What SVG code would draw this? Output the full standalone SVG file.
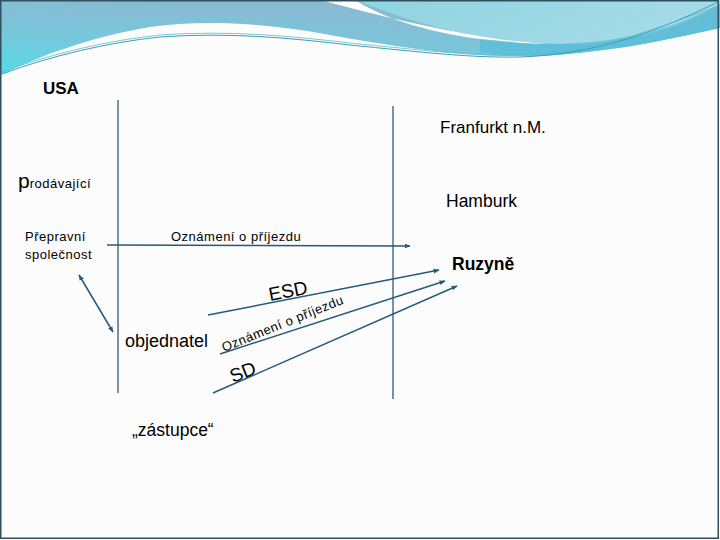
<svg xmlns="http://www.w3.org/2000/svg" width="720" height="540" viewBox="0 0 720 540">
<defs>
<linearGradient id="gA" x1="0" y1="1" x2="0.4" y2="0">
<stop offset="0" stop-color="#55dbe8"/>
<stop offset="0.5" stop-color="#78c6da"/>
<stop offset="1" stop-color="#8cb9d2"/>
</linearGradient>
<linearGradient id="gB" x1="0" y1="0" x2="1" y2="0.3">
<stop offset="0" stop-color="#8fd4e0"/>
<stop offset="1" stop-color="#a6dbe8"/>
</linearGradient>
<marker id="ah" viewBox="0 0 10 10" refX="9" refY="5" markerWidth="6" markerHeight="6" orient="auto-start-reverse" markerUnits="userSpaceOnUse">
<path d="M0,1 L10,5 L0,9 Z" fill="#245a7a"/>
</marker>
<style>
.t{font-family:"Liberation Sans",Arial,sans-serif;fill:#000}
.b{font-weight:bold}
.s{font-family:"Liberation Sans",Arial,sans-serif;font-size:13px;letter-spacing:0.5px;fill:#000}
.c{stroke:#245a7a;stroke-width:1.5;fill:none}
.v{stroke:#1e4d6b;stroke-width:1.2;fill:none}
</style>
</defs>
<rect x="0" y="0" width="720" height="540" fill="#fcfcfc"/>
<g id="decoration">
<path d="M0,0 H720 V28 C660,42 600,53 540,56 C470,58 400,48 330,35 C260,22 200,20 150,27 C90,37 40,56 0,75 Z" fill="url(#gA)"/>
<path d="M320,0 C380,16 430,28 480,36 C510,40 530,42 545,44 C520,44 500,40 480,39 C420,31 380,16 355,0 Z" fill="#ffffff"/>
<path d="M355,0 H720 V4 C690,24 640,42 580,44 C530,45 490,38 480,36 C430,28 390,13 355,0 Z" fill="url(#gB)"/>
<path d="M480,40 C540,47 600,45 650,32 C680,24 705,12 720,4 V28 C660,42 600,53 540,56 C510,56 490,54 480,52 Z" fill="#52bed8" opacity="0.7"/>
<path d="M2,74 C50,56 110,42 160,37 C230,32 290,38 350,45 C420,52 470,58 520,57 C600,54 660,30 718,2" stroke="#3aa0b8" stroke-width="1" fill="none"/>
<path d="M2,72 C50,54 110,40 160,35 C230,30 290,36 350,43 C420,50 470,56 520,55 C600,52 660,27 718,6" stroke="#62b8c8" stroke-width="0.8" fill="none"/>
</g>
<rect x="0.75" y="0.75" width="717.5" height="537.5" fill="none" stroke="#2f4f5f" stroke-width="1.5"/>
<g id="lines">
<line class="v" x1="118" y1="100" x2="118" y2="393"/>
<line class="v" x1="393" y1="106" x2="393" y2="399"/>
</g>
<g id="usa"><text class="t b" x="43" y="94" font-size="17">USA</text></g>
<g id="frankfurt"><text class="t" x="440" y="133" font-size="17">Franfurkt n.M.</text></g>
<g id="prodavajici"><text x="18" y="188"><tspan class="t" font-size="21">p</tspan><tspan class="s">rodávající</tspan></text></g>
<g id="hamburk"><text class="t" x="446" y="207" font-size="17.5">Hamburk</text></g>
<g id="prepravni"><text class="s" x="25" y="241">Přepravní</text><text class="s" x="25" y="259">společnost</text></g>
<g id="ruzyne"><text class="t b" x="452" y="270" font-size="17.5">Ruzyně</text></g>
<g id="objednatel"><text class="t" x="125" y="347" font-size="18">objednatel</text></g>
<g id="zastupce"><text class="t" x="132" y="436" font-size="17.5">„zástupce“</text></g>
<g id="connectors">
<line class="c" x1="107" y1="245" x2="410" y2="246" marker-end="url(#ah)"/>
<text class="s" x="171" y="241">Oznámení o příjezdu</text>
<line class="c" x1="208" y1="315" x2="439" y2="270" marker-end="url(#ah)"/>
<text class="t" font-size="19" transform="translate(270,301) rotate(-11)">ESD</text>
<line class="c" x1="220" y1="354" x2="445" y2="281" marker-end="url(#ah)"/>
<text class="s" font-size="14" letter-spacing="0.2" transform="translate(224,352) rotate(-22)">Oznámení o příjezdu</text>
<line class="c" x1="213" y1="393" x2="457" y2="286" marker-end="url(#ah)"/>
<text class="t" font-size="19" transform="translate(233,383) rotate(-22)">SD</text>
<line class="c" x1="79" y1="275" x2="113" y2="332" marker-start="url(#ah)" marker-end="url(#ah)"/>
</g>
</svg>
